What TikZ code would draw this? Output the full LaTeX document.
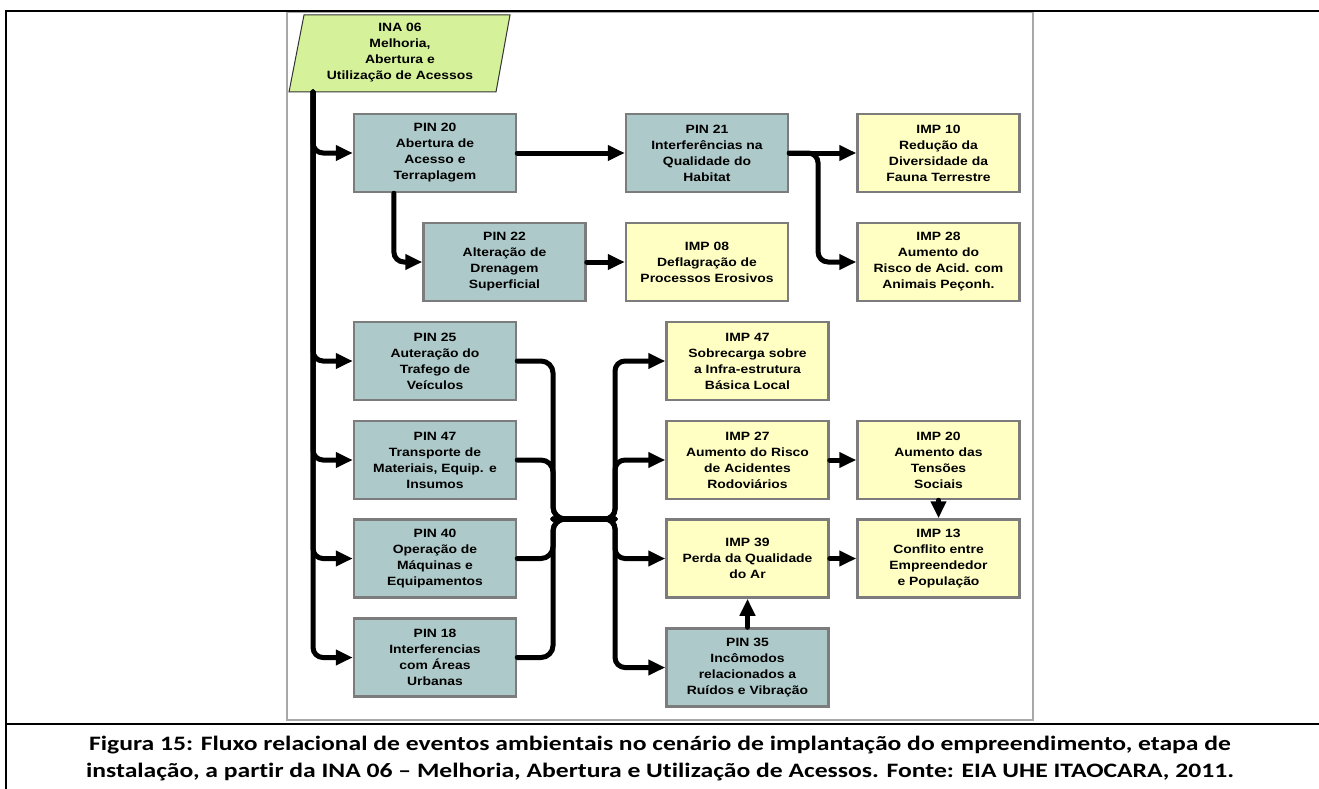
\documentclass[tikz,border=0pt]{standalone}
\usepackage{fontspec}
\setmainfont{Liberation Sans}
\newfontfamily\boxfont[FakeStretch=1.16]{Liberation Sans}
\newfontfamily\capfont[FakeStretch=1.25,Ligatures=NoCommon]{Carlito}
\usetikzlibrary{arrows.meta,calc}
\definecolor{pinfill}{HTML}{AEC9C9}
\definecolor{impfill}{HTML}{FFFFC4}
\definecolor{inafill}{HTML}{D5F29B}
\definecolor{boxline}{HTML}{7C7C7C}
\definecolor{framegray}{HTML}{A8A8A8}
\begin{document}
\begin{tikzpicture}[x=1pt,y=-1pt,
  box/.style={draw=boxline, line width=2.5pt, minimum width=162pt, minimum height=78pt,
    inner sep=0pt, align=center, font=\boxfont\bfseries\fontsize{12}{16}\selectfont},
  pinbox/.style={box, fill=pinfill},
  impbox/.style={box, fill=impfill},
  conn/.style={line width=5pt, line cap=round, rounded corners=10pt,
    -{Triangle[length=17pt,width=15pt]}},
  wire/.style={line width=5pt, line cap=round, rounded corners=12pt},
  captext/.style={font=\capfont\bfseries\fontsize{20.5}{27}\selectfont, align=center}]
\useasboundingbox (0,0) rectangle (1319,789);
\fill[white] (0,0) rectangle (1319,789);
% outer table frame
\draw[line width=2pt] (6,789) -- (6,11) -- (1319,11);
\draw[line width=2pt] (6,724) -- (1319,724);
% inner figure frame
\draw[draw=framegray, line width=1.2pt, fill=white] (287,12.5) rectangle (1033,720);

% INA 06 parallelogram
\draw[fill=inafill, draw=black!80, line width=1pt] (289,92) -- (304,15) -- (510,15) -- (496,92) -- cycle;
\node[align=center, font=\boxfont\bfseries\fontsize{12}{16}\selectfont] (ina) at (400,53)
  {INA 06\\Melhoria,\\Abertura e\\Utilização de Acessos};
\coordinate (trunk) at (313,92);

% boxes
\node[pinbox] (pin20) at (435,153) {PIN 20\\Abertura de\\Acesso e\\Terraplagem};
\node[pinbox] (pin21) at (707,153) {PIN 21\\Interferências na\\Qualidade do\\Habitat};
\node[impbox] (imp10) at (938.5,153) {IMP 10\\Redução da\\Diversidade da\\Fauna Terrestre};
\node[pinbox] (pin22) at (504.5,262) {PIN 22\\Alteração de\\Drenagem\\Superficial};
\node[impbox] (imp08) at (707,262) {IMP 08\\Deflagração de\\Processos Erosivos};
\node[impbox] (imp28) at (938.5,262) {IMP 28\\Aumento do\\Risco de Acid. com\\Animais Peçonh.};

\node[pinbox] (pin25) at (435,361) {PIN 25\\Auteração do\\Trafego de\\Veículos};
\node[pinbox] (pin47) at (435,460) {PIN 47\\Transporte de\\Materiais, Equip. e\\Insumos};
\node[pinbox] (pin40) at (435,558.5) {PIN 40\\Operação de\\Máquinas e\\Equipamentos};
\node[pinbox] (pin18) at (435,657.5) {PIN 18\\Interferencias\\com Áreas\\Urbanas};

\node[impbox] (imp47) at (747.5,361) {IMP 47\\Sobrecarga sobre\\a Infra-estrutura\\Básica Local};
\node[impbox] (imp27) at (747.5,460) {IMP 27\\Aumento do Risco\\de Acidentes\\Rodoviários};
\node[impbox] (imp39) at (747.5,558.5) {IMP 39\\Perda da Qualidade\\do Ar};
\node[pinbox] (pin35) at (747.5,667.5) {PIN 35\\Incômodos\\relacionados a\\Ruídos e Vibração};
\node[impbox] (imp20) at (938.5,460) {IMP 20\\Aumento das\\Tensões\\Sociais};
\node[impbox] (imp13) at (938.5,558.5) {IMP 13\\Conflito entre\\Empreendedor\\e População};

% trunk branches
\draw[conn] (trunk) |- (pin20.west);
\draw[conn] (trunk) |- (pin25.west);
\draw[conn] (trunk) |- (pin47.west);
\draw[conn] (trunk) |- (pin40.west);
\draw[conn] (trunk) |- (pin18.west);

% top section
\draw[conn] (pin20.east) -- (pin21.west);
\coordinate (p20d) at ($(pin20.south west)!0.25!(pin20.south east)$);
\draw[conn] (p20d) |- (pin22.west);
\draw[conn] (pin22.east) -- (imp08.west);
\draw[conn] (pin21.east) -- (imp10.west);
\coordinate (p21s) at ($(pin21.east)!0.43!(imp10.west)$);
\draw[conn] (pin21.east) -- (p21s) |- (imp28.west);

% bus
\coordinate (busL) at (553,519);
\coordinate (busR) at (615,519);
\draw[wire] (pin25.east) -| (busL) -- (busR);
\draw[wire] (pin47.east) -| (busL) -- (busR);
\draw[wire] (pin40.east) -| (busL) -- (busR);
\draw[wire] (pin18.east) -| (busL) -- (busR);
\draw[conn] (busL) -- (busR) |- (imp47.west);
\draw[conn] (busL) -- (busR) |- (imp27.west);
\draw[conn] (busL) -- (busR) |- (imp39.west);
\draw[conn] (busL) -- (busR) |- (pin35.west);

% right section
\draw[conn] (imp27.east) -- (imp20.west);
\draw[conn] (imp39.east) -- (imp13.west);
\draw[conn] (imp20.south) -- (imp13.north);
\draw[conn] (pin35.north) -- (imp39.south);

% caption
\node[captext] (cap) at (660,759)
  {Figura 15: Fluxo relacional de eventos ambientais no cenário de implantação do empreendimento, etapa de\\
   instalação, a partir da INA 06 – Melhoria, Abertura e Utilização de Acessos. Fonte: EIA UHE ITAOCARA, 2011.};
\end{tikzpicture}
\end{document}
